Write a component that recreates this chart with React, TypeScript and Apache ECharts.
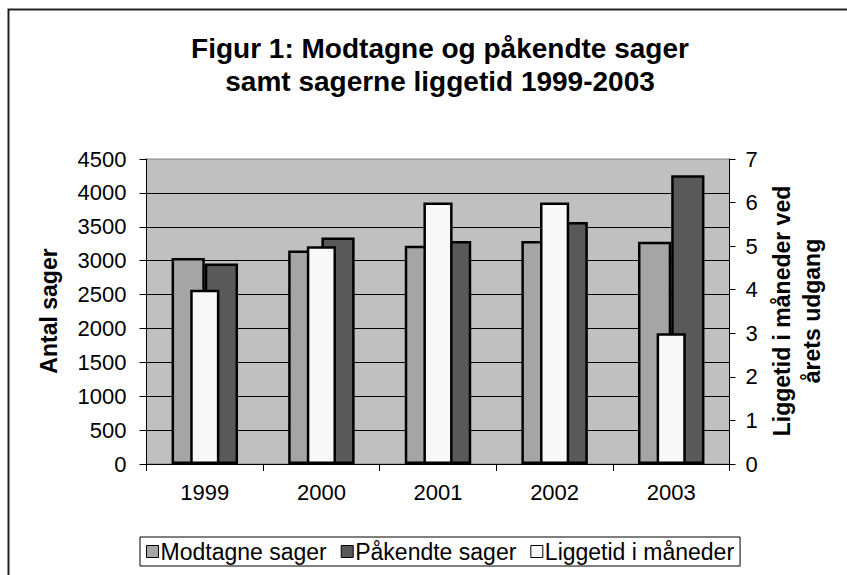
import React, { useEffect, useRef } from "react";
import * as echarts from "echarts";

const years = ["1999", "2000", "2001", "2002", "2003"];
const modtagne = [3040, 3150, 3220, 3290, 3280];
const paakendte = [2960, 3340, 3290, 3570, 4260];
const liggetid = [4, 5, 6, 6, 3];
const leftTicks = { min: 0, max: 4500, interval: 500 };
const rightTicks = { min: 0, max: 7, interval: 1 };

const FONT = "'Liberation Sans', Arial, sans-serif";

export default function App() {
  const ref = useRef<HTMLDivElement>(null);
  useEffect(() => {
    document.body.style.margin = "0";
    const chart = echarts.init(ref.current!, null, { renderer: "svg" });
    const barBorder = { borderColor: "#000", borderWidth: 2.5 };
    chart.setOption({
      animation: false,
      backgroundColor: "#fff",
      textStyle: { fontFamily: FONT, color: "#000" },
      title: {
        text: "Figur 1: Modtagne og påkendte sager\nsamt sagerne liggetid 1999-2003",
        left: 435,
        top: 27,
        textAlign: "center",
        textStyle: { fontFamily: FONT, fontSize: 28, fontWeight: "bold", color: "#000", lineHeight: 33 },
      },
      legend: {
        left: 140,
        top: 537,
        padding: [3, 6, 3, 6],
        borderColor: "#000",
        borderWidth: 1,
        itemWidth: 12,
        itemHeight: 12,
        itemGap: 14,
        icon: "rect",
        itemStyle: { borderColor: "#000", borderWidth: 1 },
        textStyle: { fontFamily: FONT, fontSize: 23, color: "#000", padding: [0, 0, 0, -3] },
        data: ["Modtagne sager", "Påkendte sager", "Liggetid i måneder"],
      },
      grid: {
        left: 146.5,
        top: 159,
        width: 583,
        height: 305,
        show: true,
        backgroundColor: "#C0C0C0",
        borderColor: "#808080",
        borderWidth: 1,
      },
      xAxis: [
        {
          type: "category",
          data: years,
          axisLine: { lineStyle: { color: "#000", width: 1 } },
          axisTick: { show: true, length: 7, lineStyle: { color: "#000" } },
          axisLabel: { fontFamily: FONT, fontSize: 22, color: "#000", margin: 17 },
        },
        { type: "category", data: years, show: false },
      ],
      yAxis: [
        {
          type: "value",
          ...leftTicks,
          axisLine: { show: true, lineStyle: { color: "#000" } },
          axisTick: { show: true, length: 7, lineStyle: { color: "#000" } },
          axisLabel: {
            fontFamily: FONT,
            fontSize: 22,
            color: "#000",
            margin: 20,
            formatter: (v: number) => String(v),
          },
          splitLine: { show: true, showMaxLine: false, lineStyle: { color: "#000", width: 1 } },
        },
        {
          type: "value",
          position: "right",
          ...rightTicks,
          axisLine: { show: true, lineStyle: { color: "#000" } },
          axisTick: { show: true, length: 6, lineStyle: { color: "#000" } },
          axisLabel: {
            fontFamily: FONT,
            fontSize: 22,
            color: "#000",
            margin: 16,
            formatter: (v: number) => String(v),
          },
          splitLine: { show: false },
        },
      ],
      graphic: [
        {
          type: "rect",
          shape: { x: 8.5, y: 9.5, width: 900, height: 700 },
          style: { fill: "none", stroke: "#222", lineWidth: 2 },
          silent: true,
        },
        {
          type: "text",
          x: 49,
          y: 311,
          rotation: Math.PI / 2,
          style: {
            text: "Antal sager",
            fontFamily: FONT,
            fontSize: 23,
            fontWeight: "bold",
            fill: "#000",
            textAlign: "center",
            textVerticalAlign: "middle",
          },
        },
        {
          type: "text",
          x: 797,
          y: 311,
          rotation: Math.PI / 2,
          style: {
            text: "Liggetid i måneder ved\nårets udgang",
            fontFamily: FONT,
            fontSize: 23,
            fontWeight: "bold",
            lineHeight: 30,
            fill: "#000",
            textAlign: "center",
            textVerticalAlign: "middle",
          },
        },
      ],
      series: [
        {
          name: "Modtagne sager",
          type: "bar",
          xAxisIndex: 0,
          yAxisIndex: 0,
          data: modtagne,
          barGap: "0%",
          barCategoryGap: "43%",
          itemStyle: { color: "#A5A5A5", ...barBorder },
          z: 2,
        },
        {
          name: "Påkendte sager",
          type: "bar",
          xAxisIndex: 0,
          yAxisIndex: 0,
          data: paakendte,
          barGap: "0%",
          barCategoryGap: "43%",
          itemStyle: { color: "#595959", ...barBorder },
          z: 2,
        },
        {
          name: "Liggetid i måneder",
          type: "bar",
          xAxisIndex: 1,
          yAxisIndex: 1,
          data: liggetid,
          barCategoryGap: "75%",
          itemStyle: { color: "#F8F8F8", ...barBorder },
          z: 3,
        },
      ],
    });
    return () => chart.dispose();
  }, []);
  return <div ref={ref} style={{ width: 847, height: 575 }} />;
}
